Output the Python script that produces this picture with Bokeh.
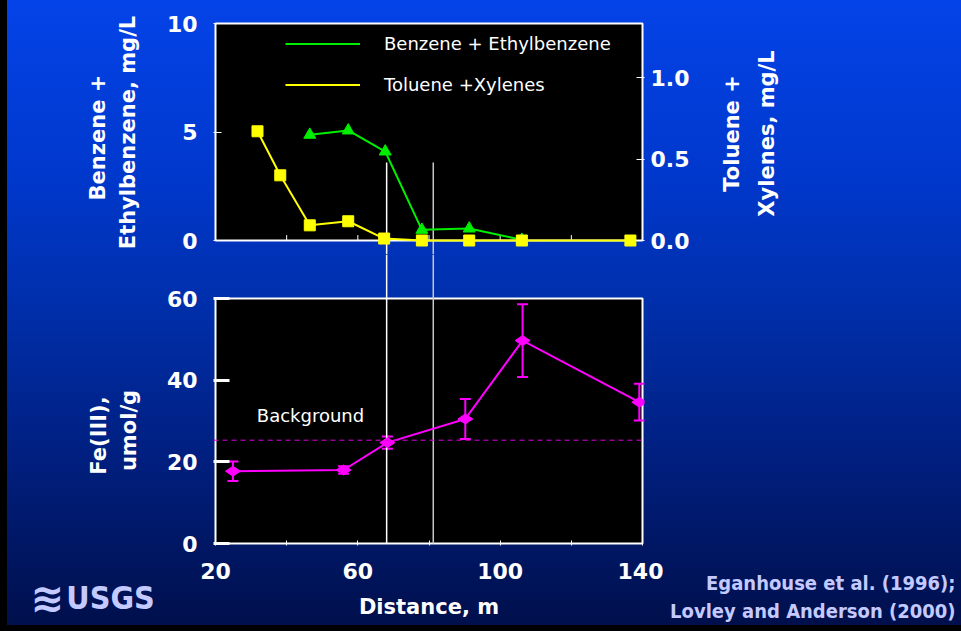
import math
from bokeh.plotting import figure
from bokeh.layouts import column, row
from bokeh.core.properties import value
from bokeh.models import (Range1d, LinearAxis, FixedTicker, PrintfTickFormatter, Legend, LegendItem,
                          Span, Whisker, TeeHead, ColumnDataSource, BoxAnnotation,
                          GlobalInlineStyleSheet)
from bokeh.embed import file_html
from bokeh.resources import INLINE

# ---------------- data ----------------
distance_be = [46.5, 57.3, 67.7, 78.0, 91.3, 106.1]
benzene_ethylbenzene = [4.87, 5.07, 4.10, 0.49, 0.55, 0.03]          # mg/L (left axis)

distance_tx = [31.8, 38.2, 46.5, 57.3, 67.4, 78.0, 91.3, 106.1, 136.6]
toluene_xylenes = [0.67, 0.40, 0.093, 0.118, 0.012, 0.0, 0.0, 0.0, 0.0]  # mg/L (right axis)

distance_fe = [24.9, 56.0, 68.3, 90.2, 106.3, 139.1]
fe_iii = [17.7, 18.0, 24.7, 30.5, 49.7, 34.6]                         # umol/g
fe_iii_err = [2.4, 0.9, 1.5, 4.9, 8.9, 4.5]
fe_background = 25.3

zone_boundaries = [68.1, 81.2]          # distances of the two vertical guide lines
zone_colors = ["white", "#c8c8c8"]
zone_top_be = 3.6                       # where the guide lines start (top panel, left-axis units)

x_ticks = [20, 40, 60, 80, 100, 120, 140]
x_tick_text = {40: "", 80: "", 120: ""}
be_ticks = [0, 5, 10]
tx_ticks = [0.0, 0.5, 1.0]
fe_ticks = [0, 20, 40, 60]

FONT = "DejaVu Sans"
GREEN = "#00ee00"
YELLOW = "#ffff00"
MAGENTA = "#ff00ff"
LAVENDER = "#c4caff"


def frame_range(d0, p0, d1, p1, f_lo, f_hi):
    """data d0 sits at pixel p0, d1 at p1; return range covering frame pixels f_lo..f_hi"""
    s = (d1 - d0) / (p1 - p0)
    return Range1d(d0 + (f_lo - p0) * s, d0 + (f_hi - p0) * s)


def style_axis(ax, tick_in, tick_w=1, label_standoff=14):
    ax.axis_line_color = None
    ax.major_tick_in = tick_in
    ax.major_tick_out = 0
    ax.major_tick_line_color = "white"
    ax.major_tick_line_width = tick_w
    ax.minor_tick_line_color = None
    ax.major_label_text_color = "white"
    ax.major_label_text_font = FONT
    ax.major_label_text_font_size = "22px"
    ax.major_label_text_font_style = "bold"
    ax.major_label_standoff = label_standoff
    ax.axis_label_text_color = "white"
    ax.axis_label_text_font = FONT
    ax.axis_label_text_font_size = "21px"
    ax.axis_label_text_font_style = "bold"


def text_panel(w, h):
    p = figure(width=w, height=h, x_range=Range1d(0, w), y_range=Range1d(0, h),
               x_axis_location=None, y_axis_location=None, min_border=0,
               outline_line_color=None, background_fill_color=None, border_fill_color=None,
               output_backend="svg", toolbar_location=None)
    p.grid.visible = False
    if "frame_align" in p.properties():
        p.frame_align = False
    return p


def put_text(p, h, x, y_px, txt, size, color="white", bold=True, angle=0.0, align="center",
             font=FONT):
    p.text(x=[x], y=[h - y_px], text=[txt], angle=angle, text_align=align,
           text_baseline="middle", text_color=color, text_font=value(font),
           text_font_size=size, text_font_style="bold" if bold else "normal")


BOX = dict(fill_color="black", fill_alpha=1.0, line_color="white", line_alpha=1.0,
           line_width=2, level="underlay")

TOP_H = 254          # top row: y 0..254
BOT_H = 374          # bottom row: y 254..628

# ---------------- top panel (x 158..700) ----------------
top = figure(width=542, height=TOP_H, x_axis_location=None,
             x_range=frame_range(20, 215, 140, 642, 213, 644),
             y_range=frame_range(0, 240, 10, 23, TOP_H, 21),
             output_backend="svg", toolbar_location=None,
             min_border_left=55, min_border_right=56, min_border_top=21, min_border_bottom=0,
             background_fill_color=None, border_fill_color=None, outline_line_color=None)
top.grid.visible = False
top.extra_y_ranges = {"tx": frame_range(0.0, 240, 1.0, 77, TOP_H, 21)}
top.add_layout(BoxAnnotation(left=20, right=140, bottom=0, top=10, **BOX))

style_axis(top.yaxis[0], 8, label_standoff=16)
top.yaxis.ticker = FixedTicker(ticks=be_ticks)

rax = LinearAxis(y_range_name="tx", ticker=FixedTicker(ticks=tx_ticks),
                 formatter=PrintfTickFormatter(format="%.1f"))
style_axis(rax, 8, label_standoff=6)
top.add_layout(rax, "right")

# small inward distance ticks on the lower edge of the top panel
inner_ticks = x_ticks[1:-1]
top.segment(x0=inner_ticks, y0=[0] * len(inner_ticks), x1=inner_ticks,
            y1=[0.25] * len(inner_ticks), line_color="white", line_width=1)

top.segment(x0=zone_boundaries, y0=[zone_top_be] * 2, x1=zone_boundaries,
            y1=[top.y_range.start] * 2, line_color=zone_colors, line_width=1.5)

g_line = top.line(distance_be, benzene_ethylbenzene, line_color=GREEN, line_width=2)
top.scatter(distance_be, benzene_ethylbenzene, marker="triangle", size=12,
            fill_color=GREEN, line_color=GREEN)
y_line = top.line(distance_tx, toluene_xylenes, line_color=YELLOW, line_width=2, y_range_name="tx")
top.scatter(distance_tx, toluene_xylenes, marker="square", size=11,
            fill_color=YELLOW, line_color=YELLOW, y_range_name="tx")

legend = Legend(items=[LegendItem(label="Benzene + Ethylbenzene", renderers=[g_line]),
                       LegendItem(label="Toluene +Xylenes", renderers=[y_line])],
                location=(72, 145 + (TOP_H - 242)), background_fill_alpha=0,
                border_line_color=None,
                label_text_color="white", label_text_font=FONT, label_text_font_size="18px",
                glyph_width=75, glyph_height=25, label_height=25, spacing=16,
                label_standoff=24, padding=0, margin=0)
top.add_layout(legend)

# ---------------- right-axis title (x 700..960) ----------------
tox = text_panel(260, TOP_H)
put_text(tox, TOP_H, 31, 133, "Toluene +", "21px", angle=math.pi / 2)
put_text(tox, TOP_H, 66, 133, "Xylenes, mg/L", "21px", angle=math.pi / 2)

# ---------------- bottom panel (x 158..663) ----------------
bot = figure(width=505, height=BOT_H,
             x_range=frame_range(20, 215, 140, 642, 213, 644),
             y_range=frame_range(0, 543, 60, 298, 545, TOP_H),
             output_backend="svg", toolbar_location=None,
             min_border_left=55, min_border_right=19, min_border_top=0, min_border_bottom=83,
             background_fill_color=None, border_fill_color=None, outline_line_color=None)
bot.grid.visible = False
bot.add_layout(BoxAnnotation(left=20, right=140, bottom=0, top=60, **BOX))

style_axis(bot.xaxis[0], 5, label_standoff=17)
bot.xaxis.ticker = FixedTicker(ticks=x_ticks)
bot.xaxis.major_label_overrides = x_tick_text
bot.xaxis.axis_label = "Distance, m"
bot.xaxis.axis_label_standoff = 13

style_axis(bot.yaxis[0], 16, tick_w=3, label_standoff=16)
bot.yaxis.ticker = FixedTicker(ticks=fe_ticks)

bot.segment(x0=zone_boundaries, y0=[0] * 2, x1=zone_boundaries,
            y1=[bot.y_range.end] * 2, line_color=zone_colors, line_width=1.5)

bot.add_layout(Span(location=fe_background, dimension="width", line_color="#e000e0",
                    line_dash="5 4", line_width=1))
bot.text(x=[46.7], y=[31.3], text=["Background"], text_align="center", text_baseline="middle",
         text_color="white", text_font=value(FONT), text_font_size="18px")

src = ColumnDataSource(dict(x=distance_fe, y=fe_iii,
                            upper=[v + e for v, e in zip(fe_iii, fe_iii_err)],
                            lower=[v - e for v, e in zip(fe_iii, fe_iii_err)]))
bot.add_layout(Whisker(source=src, base="x", upper="upper", lower="lower",
                       line_color=MAGENTA, line_width=2,
                       upper_head=TeeHead(size=11, line_color=MAGENTA, line_width=2),
                       lower_head=TeeHead(size=11, line_color=MAGENTA, line_width=2)))
bot.line("x", "y", source=src, line_color=MAGENTA, line_width=2)
bot.scatter("x", "y", source=src, marker="diamond", size=15, angle=math.pi / 2,
            fill_color=MAGENTA, line_color=MAGENTA)

# ---------------- citation (x 663..960) ----------------
cite = text_panel(297, BOT_H)
put_text(cite, BOT_H, 292, 582 - TOP_H, "Eganhouse et al. (1996);", "20px", color=LAVENDER,
         align="right", font="DejaVu Sans Condensed")
put_text(cite, BOT_H, 292, 610 - TOP_H, "Lovley and Anderson (2000)", "20px", color=LAVENDER,
         align="right", font="DejaVu Sans Condensed")

# ---------------- left titles and logo (x 0..158, y 0..628) ----------------
LEFT_H = TOP_H + BOT_H
left = text_panel(158, LEFT_H)
put_text(left, LEFT_H, 97, 137, "Benzene +", "21px", angle=math.pi / 2)
put_text(left, LEFT_H, 127, 132, "Ethylbenzene, mg/L", "21px", angle=math.pi / 2)
put_text(left, LEFT_H, 98, 435, "Fe(III),", "21px", angle=math.pi / 2)
put_text(left, LEFT_H, 128, 430, "umol/g", "21px", angle=math.pi / 2)
put_text(left, LEFT_H, 47, 597, "≋", "40px", color=LAVENDER)
put_text(left, LEFT_H, 110, 597, "USGS", "32px", color=LAVENDER, font="DejaVu Sans Condensed")

css = """
html {
  height: 100%;
  background:
    linear-gradient(to right, #000 7px, transparent 7px),
    linear-gradient(to top, #000 6px, transparent 6px),
    linear-gradient(to bottom, #0443e8 0%, #0038cc 28%, #002ea8 50%, #001f80 72%, #000f4a 100%);
}
body { background: transparent; }
"""

if "frame_align" in tox.properties():
    right_top, right_bot = tox, cite
else:
    right_top, right_bot = column(tox), column(cite)

layout = row(left, column(row(top, right_top), row(bot, right_bot)),
             stylesheets=[GlobalInlineStyleSheet(css=css)])

open("out.html", "w").write(file_html(layout, INLINE, title="BTEX and Fe(III)"))
